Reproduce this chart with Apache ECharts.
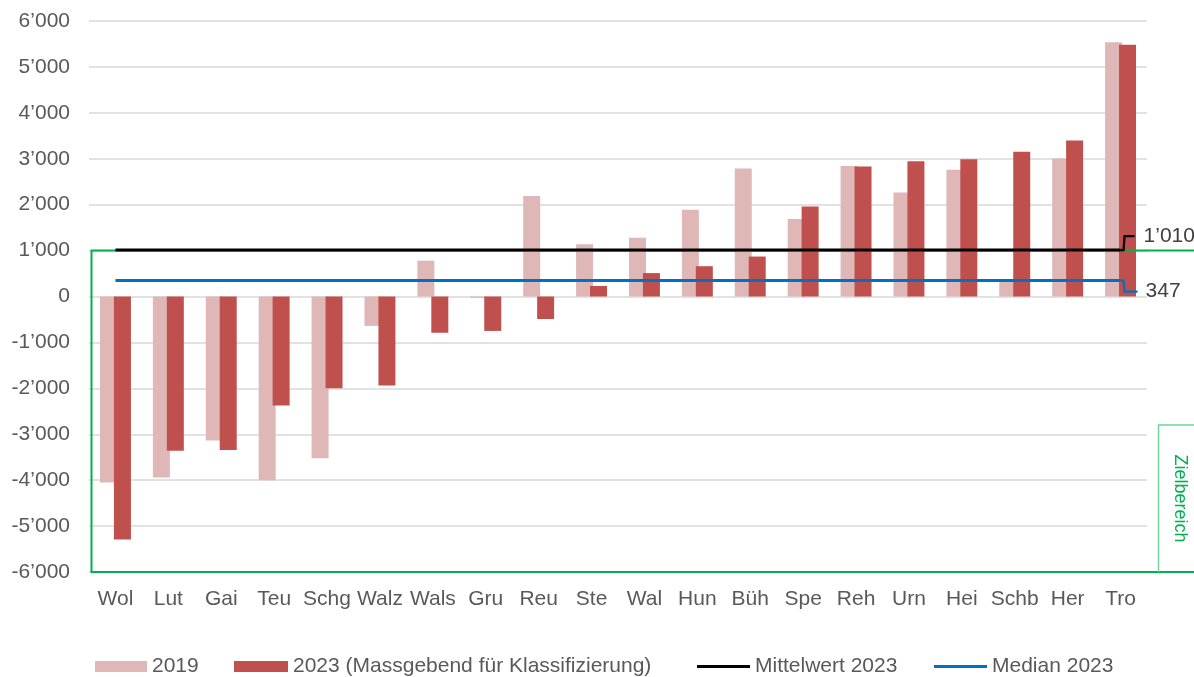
<!DOCTYPE html>
<html><head><meta charset="utf-8">
<script src="https://cdn.jsdelivr.net/npm/echarts@6/dist/echarts.min.js"></script>
<style>html,body{margin:0;padding:0;background:#fff}#c{width:1194px;height:677px}</style>
</head><body><div id="c"></div>
<script>
const categories = ['Wol','Lut','Gai','Teu','Schg','Walz','Wals','Gru','Reu','Ste','Wal','Hun','Büh','Spe','Reh','Urn','Hei','Schb','Her','Tro'];
const values2019 = [-4050,-3940,-3135,-4000,-3520,-640,780,-30,2190,1140,1280,1890,2790,1690,2840,2265,2760,320,3005,5535];
const values2023 = [-5290,-3360,-3345,-2375,-2000,-1940,-790,-750,-490,230,510,660,870,1960,2830,2945,2990,3150,3395,5485];
const mean2023 = 1010;
const median2023 = 347;
const yMin = -6000, yMax = 6000, yInterval = 1000;
const targetRange = [1000, -6000];
const targetLabel = 'Zielbereich';
const seriesNames = ['2019', '2023 (Massgebend für Klassifizierung)', 'Mittelwert 2023', 'Median 2023'];

const FONT = '"Liberation Sans", Arial, sans-serif';
const TXT = '#595959';
function fmt(v) {
  const s = Math.abs(Math.round(v)).toString().replace(/\B(?=(\d{3})+(?!\d))/g, '\u2019');
  return (v < 0 ? '-' : '') + s;
}
const lastCat = categories[categories.length - 1];
const firstCat = categories[0];

function leader(dy, color, endDx, textDx, text) {
  return function (params, api) {
    const p = api.coord([api.value(0), api.value(1)]);
    const xs = p[0] + 3, y2 = p[1] + dy;
    return { type: 'group', children: [
      { type: 'polyline', shape: { points: [[p[0], p[1]], [xs, p[1]], [xs + 1, y2], [p[0] + endDx, y2]] },
        style: { stroke: color, lineWidth: 2.2, fill: null } },
      { type: 'text', x: p[0] + textDx, y: y2,
        style: { text: text, fill: '#404040', font: '21px ' + FONT, verticalAlign: 'middle', align: 'left' } }
    ] };
  };
}

const chart = echarts.init(document.getElementById('c'), null, { renderer: 'canvas' });
const legendBase = { top: 656, padding: 0, textStyle: { color: TXT, fontSize: 21, fontFamily: FONT }, itemGap: 5, selectedMode: false };
chart.setOption({
  animation: false,
  grid: { left: 89, right: 47, top: 21, bottom: 105, containLabel: false },
  legend: [
    Object.assign({}, legendBase, { left: 95, data: [seriesNames[0]], icon: 'rect', itemWidth: 52, itemHeight: 11 }),
    Object.assign({}, legendBase, { left: 234, data: [seriesNames[1]], icon: 'rect', itemWidth: 54, itemHeight: 11 }),
    Object.assign({}, legendBase, { left: 697, data: [seriesNames[2]], icon: 'rect', itemWidth: 53, itemHeight: 3 }),
    Object.assign({}, legendBase, { left: 934, data: [seriesNames[3]], icon: 'rect', itemWidth: 53, itemHeight: 3 })
  ],
  xAxis: {
    type: 'category', data: categories,
    axisLine: { show: false }, axisTick: { show: false },
    axisLabel: { color: TXT, fontSize: 21, fontFamily: FONT, margin: 17, interval: 0 }
  },
  yAxis: {
    type: 'value', min: yMin, max: yMax, interval: yInterval,
    axisLine: { show: false }, axisTick: { show: false },
    axisLabel: { color: TXT, fontSize: 21, fontFamily: FONT, margin: 19, formatter: fmt },
    splitLine: { lineStyle: { color: '#d9d9d9', width: 1.5 } }
  },
  series: [
    { name: seriesNames[0], type: 'bar', data: values2019, barWidth: 17, barGap: '-18%',
      itemStyle: { color: '#e0b7b7' }, z: 2 },
    { name: seriesNames[1], type: 'bar', data: values2023, barWidth: 17,
      itemStyle: { color: '#c0504d' }, z: 2 },
    { name: 'target', type: 'custom', data: [[0, targetRange[0], targetRange[1]]], clip: false, z: 3, silent: true,
      renderItem: function (params, api) {
        const top = api.coord([0, api.value(1)])[1];
        const bottom = api.coord([0, api.value(2)])[1];
        const cs = params.coordSys;
        const left = cs.x + 2.5;
        const right = api.getWidth() + 5;
        const tbLeft = cs.x + cs.width + 11.5;
        const tbTop = bottom - 147;
        return { type: 'group', children: [
          { type: 'rect', shape: { x: left, y: top, width: right - left, height: bottom - top },
            style: { stroke: '#00b050', lineWidth: 2, fill: null } },
          { type: 'polyline', shape: { points: [[tbLeft, bottom], [tbLeft, tbTop], [right, tbTop]] },
            style: { stroke: '#6fd39b', lineWidth: 1.5, fill: null } },
          { type: 'text', x: tbLeft + 21, y: (tbTop + bottom) / 2, rotation: -Math.PI / 2,
            style: { text: targetLabel, fill: '#00b050', font: '18px ' + FONT, align: 'center', verticalAlign: 'middle' } }
        ] };
      } },
    { name: seriesNames[2], type: 'line', data: [[firstCat, mean2023], [lastCat, mean2023]], symbol: 'none',
      lineStyle: { color: '#000000', width: 3 }, itemStyle: { color: '#000000' }, z: 5 },
    { name: seriesNames[3], type: 'line', data: [[firstCat, median2023], [lastCat, median2023]], symbol: 'none',
      lineStyle: { color: '#0070c0', width: 3 }, itemStyle: { color: '#0070c0' }, z: 5 },
    { name: 'meanLabel', type: 'custom', data: [[categories.length - 1, mean2023]], clip: false, z: 5, silent: true,
      renderItem: leader(-14, '#000000', 14, 23, fmt(mean2023)) },
    { name: 'medianLabel', type: 'custom', data: [[categories.length - 1, median2023]], clip: false, z: 5, silent: true,
      renderItem: leader(11, '#0070c0', 17, 25, fmt(median2023)) }
  ]
});
</script>
</body></html>
